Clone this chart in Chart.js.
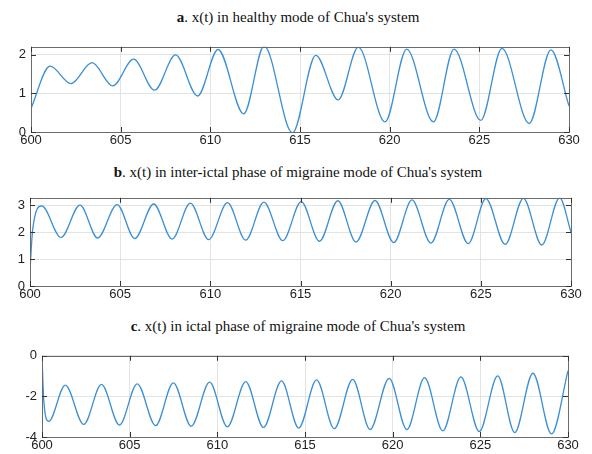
<!DOCTYPE html>
<html>
<head>
<meta charset="utf-8">
<script src="https://cdn.jsdelivr.net/npm/chart.js@4/dist/chart.umd.min.js"></script>
<style>
  body { margin: 0; background: #fff; width: 592px; height: 454px; position: relative; overflow: hidden; }
  .title { position: absolute; left: 0; width: 596px; text-align: center; font-family: "Liberation Serif", "Times New Roman", serif; font-size: 15px; line-height: 17px; color: #111; }
  canvas { position: absolute; left: 0; }
</style>
</head>
<body>
<div class="title" style="top:9px"><b>a</b>. x(t) in healthy mode of Chua's system</div>
<div class="title" style="top:164px"><b>b</b>. x(t) in inter-ictal phase of migraine mode of Chua's system</div>
<div class="title" style="top:318px"><b>c</b>. x(t) in ictal phase of migraine mode of Chua's system</div>
<canvas id="chartA" style="top:34px"></canvas>
<canvas id="chartB" style="top:185px"></canvas>
<canvas id="chartC" style="top:343px"></canvas>
<script>
// x ticks shared by all three panels
const timeTicks = [600, 605, 610, 615, 620, 625, 630];

// a. healthy mode (peaks / troughs)
const aTime = [600, 601.06, 602.23, 603.4, 604.56, 605.72, 606.89, 608.06, 609.29, 610.43, 611.86, 613.0, 614.58,
  615.88, 617.13, 618.25, 619.74, 620.95, 622.44, 623.59, 625.08, 626.26, 627.78, 628.99, 630];
const aValue = [0.61, 1.70, 1.25, 1.79, 1.19, 1.88, 1.08, 1.99, 0.93, 2.13, 0.47, 2.22, -0.02,
  1.98, 0.83, 2.19, 0.26, 2.14, 0.26, 2.14, 0.30, 2.16, 0.22, 2.12, 0.67];
const aTicks = [0, 1, 2];

// b. inter-ictal phase
const bTime = [600, 600.15, 600.65, 601.72, 602.77, 603.75, 604.83, 605.81, 606.86, 607.88, 608.89, 609.91, 610.95,
  611.96, 612.97, 614.02, 615.04, 616.05, 617.07, 618.08, 619.13, 620.17, 621.18, 622.23, 623.25, 624.30,
  625.28, 626.35, 627.36, 628.38, 629.37, 630];
const bValue = [0.6, 2.1, 2.97, 1.80, 3.0, 1.78, 3.02, 1.76, 3.04, 1.74, 3.07, 1.72, 3.09,
  1.70, 3.11, 1.68, 3.13, 1.66, 3.16, 1.63, 3.17, 1.61, 3.19, 1.59, 3.21, 1.57,
  3.24, 1.54, 3.25, 1.52, 3.27, 2.0];
const bTicks = [0, 1, 2, 3];

// c. ictal phase
const cTime = [600, 600.1, 600.38, 601.33, 602.38, 603.39, 604.42, 605.43, 606.48, 607.49, 608.51, 609.56, 610.57,
  611.62, 612.63, 613.66, 614.64, 615.66, 616.67, 617.72, 618.71, 619.8, 620.81, 621.82, 622.86, 623.89,
  624.94, 625.99, 626.96, 628.0, 629.06, 630];
const cValue = [0, -2.2, -3.23, -1.44, -3.38, -1.41, -3.41, -1.38, -3.44, -1.33, -3.47, -1.30, -3.50,
  -1.27, -3.53, -1.24, -3.56, -1.19, -3.59, -1.16, -3.63, -1.11, -3.64, -1.08, -3.70, -1.04,
  -3.73, -0.99, -3.78, -0.86, -3.85, -0.74];
const cTicks = [-4, -2, 0];

// MATLAB-like box with inward tick marks
const boxPlugin = {
  id: 'box',
  afterDraw(chart) {
    const { ctx, chartArea: a, scales } = chart;
    ctx.save();
    ctx.strokeStyle = '#6b6b6b';
    ctx.lineWidth = 1;
    ctx.strokeRect(Math.round(a.left) + 0.5, Math.round(a.top) + 0.5,
      Math.round(a.right - a.left), Math.round(a.bottom - a.top));
    ctx.strokeStyle = '#333';
    ctx.beginPath();
    scales.x.ticks.forEach(t => {
      const px = Math.round(scales.x.getPixelForValue(t.value)) + 0.5;
      ctx.moveTo(px, a.top); ctx.lineTo(px, a.top + 5);
      ctx.moveTo(px, a.bottom); ctx.lineTo(px, a.bottom - 5);
    });
    scales.y.ticks.forEach(t => {
      const py = Math.round(scales.y.getPixelForValue(t.value)) + 0.5;
      ctx.moveTo(a.left, py); ctx.lineTo(a.left + 5, py);
      ctx.moveTo(a.right, py); ctx.lineTo(a.right - 5, py);
    });
    ctx.stroke();
    ctx.restore();
  }
};

function makeChart(id, height, time, value, yTicks, yMin, yMax, yWidth, padRight) {
  const canvas = document.getElementById(id);
  canvas.width = 592;
  canvas.height = height;
  canvas.style.width = '592px';
  canvas.style.height = height + 'px';
  const tickFont = { family: '"Liberation Sans", Arial, sans-serif', size: 13 };
  return new Chart(canvas, {
    type: 'line',
    data: {
      datasets: [{
        data: time.map((t, i) => ({ x: t, y: value[i] })),
        borderColor: '#3b8fd3',
        borderWidth: 1.3,
        pointRadius: 0,
        cubicInterpolationMode: 'monotone',
        fill: false
      }]
    },
    options: {
      responsive: false,
      animation: false,
      events: [],
      layout: { padding: { top: 4, right: padRight, left: 0, bottom: 0 } },
      plugins: { legend: { display: false }, tooltip: { enabled: false } },
      scales: {
        x: {
          type: 'linear',
          min: 600, max: 630,
          afterBuildTicks: s => { s.ticks = timeTicks.map(v => ({ value: v })); },
          afterFit: s => { s.height = 20; },
          grid: { color: '#e3e3e3', drawTicks: false },
          border: { display: false },
          ticks: { color: '#222', font: tickFont, padding: 1, maxRotation: 0 }
        },
        y: {
          min: yMin, max: yMax,
          afterBuildTicks: s => { s.ticks = yTicks.map(v => ({ value: v })); },
          afterFit: s => { s.width = yWidth; },
          grid: { color: '#e3e3e3', drawTicks: false },
          border: { display: false },
          ticks: { color: '#222', font: tickFont, padding: 5 }
        }
      }
    },
    plugins: [boxPlugin]
  });
}

makeChart('chartA', 118, aTime, aValue, aTicks, 0, 2.2, 31, 23);
makeChart('chartB', 121, bTime, bValue, bTicks, 0, 3.27, 30, 21);
makeChart('chartC', 114, cTime, cValue, cTicks, -4, 0, 42, 24);
</script>
</body>
</html>
